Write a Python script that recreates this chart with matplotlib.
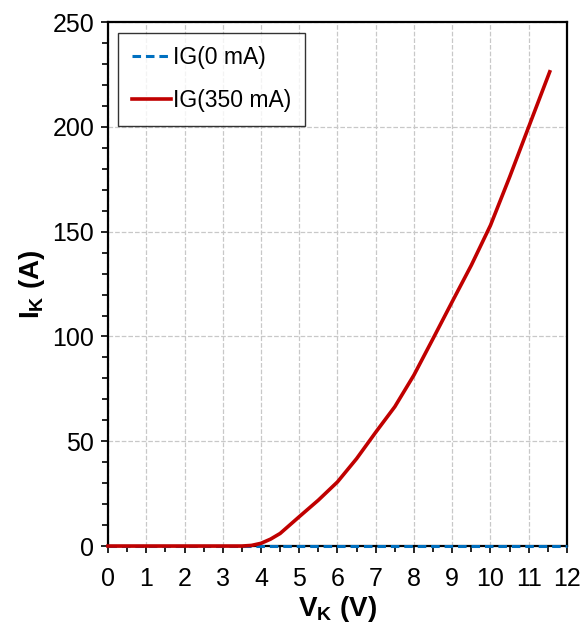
import matplotlib
matplotlib.use("Agg")
import matplotlib.pyplot as plt
from matplotlib.ticker import MultipleLocator

plt.rcParams['font.family'] = ['Liberation Sans', 'DejaVu Sans']
plt.rcParams['mathtext.fontset'] = 'custom'
plt.rcParams['mathtext.rm'] = 'Liberation Sans'
plt.rcParams['mathtext.bf'] = 'Liberation Sans:bold'

# IG = 0 mA: flat at zero over the whole sweep
vk_0 = [0, 1, 2, 3, 4, 5, 6, 7, 8, 9, 10, 11, 12]
ik_0 = [0, 0, 0, 0, 0, 0, 0, 0, 0, 0, 0, 0, 0]

# IG = 350 mA
vk_350 = [0, 0.5, 1, 1.5, 2, 2.5, 3, 3.5, 3.75, 4, 4.25, 4.5, 5, 5.5, 6,
          6.5, 7, 7.5, 8, 8.5, 9, 9.5, 10, 10.5, 11, 11.55]
ik_350 = [0, 0, 0, 0, 0, 0, 0, 0, 0.3, 1.3, 3.3, 6.0, 14.0, 21.9, 30.6,
          41.7, 54.3, 66.5, 81.6, 99.0, 116.6, 134.0, 153.0, 176.0, 200.0, 226.3]

fig = plt.figure(figsize=(5.82, 6.32), dpi=100)
ax = fig.add_axes([0.1856, 0.136, 0.7885, 0.829])

ax.plot(vk_0, ik_0, color='#0070C0', linestyle='--', linewidth=2.2,
        dashes=(2.8, 1.6), label='IG(0 mA)', clip_on=False, zorder=4)
ax.plot(vk_350, ik_350, color='#C00000', linewidth=2.6,
        label='IG(350 mA)', clip_on=False, zorder=5)

ax.set_xlim(0, 12)
ax.set_ylim(0, 250)
ax.xaxis.set_major_locator(MultipleLocator(1))
ax.xaxis.set_minor_locator(MultipleLocator(0.5))
ax.yaxis.set_major_locator(MultipleLocator(50))
ax.yaxis.set_minor_locator(MultipleLocator(10))

ax.grid(True, which='major', color='#c8c8c8', linestyle='--', linewidth=0.9)
ax.tick_params(which='major', direction='out', length=5, width=1.2,
               labelsize=18, pad=5)
ax.tick_params(axis='x', which='major', pad=10)
ax.tick_params(which='minor', direction='out', length=4, width=1.2)

for s in ax.spines.values():
    s.set_linewidth(1.6)

ax.set_xlabel(r'$\mathbf{V_K}$ (V)', fontsize=20, fontweight='bold', labelpad=2)
ax.set_ylabel(r'$\mathbf{I_K}$ (A)', fontsize=20, fontweight='bold', labelpad=4)

leg = ax.legend(loc='upper left', bbox_to_anchor=(0.022, 0.98), fontsize=16.5,
                frameon=True, fancybox=False, edgecolor='black',
                handlelength=1.7, handletextpad=0.1, labelspacing=0.85,
                borderpad=0.6, borderaxespad=0)
leg.get_frame().set_linewidth(1.0)

fig.savefig('out.png', dpi=100)
